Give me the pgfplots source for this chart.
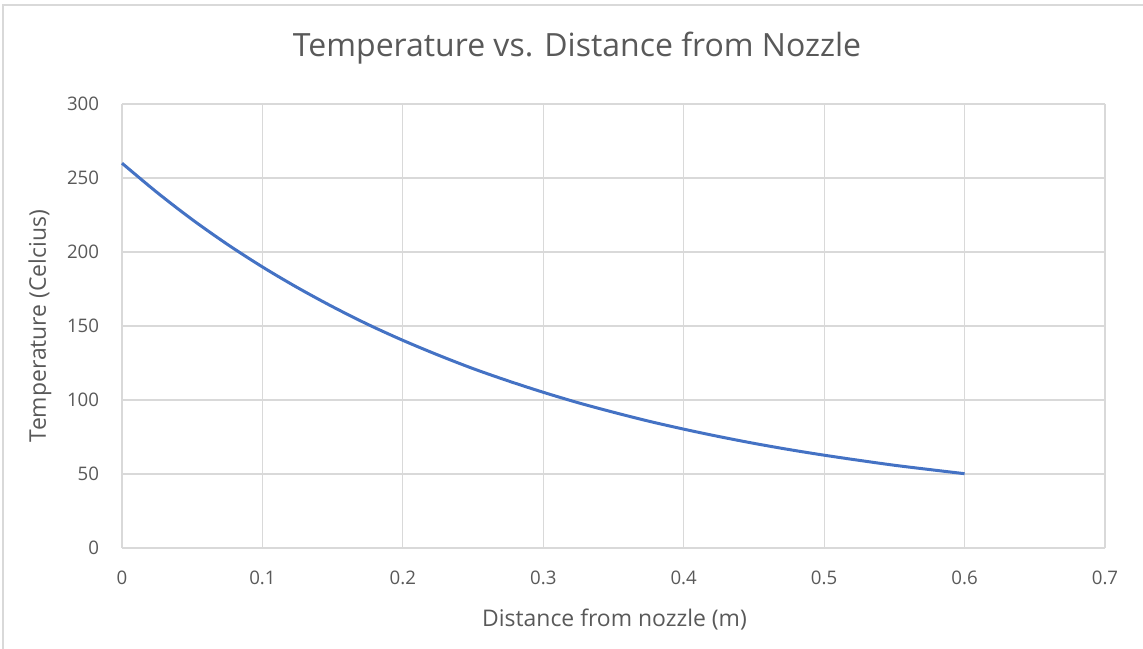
\documentclass[border=0pt]{standalone}
\usepackage{pgfplots}
\pgfplotsset{compat=1.18}
\usepackage{fontspec}
\setmainfont{Open Sans}
\definecolor{txt}{HTML}{595959}
\definecolor{grd}{HTML}{D9D9D9}
\definecolor{ln}{HTML}{4472C4}
\begin{document}
\begin{tikzpicture}
\begin{axis}[
  scale only axis, width=737.25pt, height=333pt,
  xmin=0, xmax=0.7, ymin=0, ymax=300,
  xtick={0,0.1,...,0.7}, ytick={0,50,...,300},
  xticklabels={0,0.1,0.2,0.3,0.4,0.5,0.6,0.7},
  grid=major, major grid style={grd, line width=0.9pt},
  axis line style={grd, line width=0.9pt},
  axis x line*=bottom, axis y line*=left,
  separate axis lines,
  y axis line style={draw=none},
  major tick length=0pt,
  tick label style={txt, font=\fontsize{14}{17}\selectfont},
  xticklabel style={anchor=center, yshift=-22.5pt},
  yticklabel style={anchor=east, inner sep=0pt, xshift=-17pt},
  /pgf/number format/assume math mode=true,
  clip=false,
  xlabel={Distance from nozzle (m)},
  ylabel={Temperature (Celcius)},
  label style={txt, font=\fontsize{17.2}{20}\selectfont},
  xlabel style={at={(rel axis cs:0.501,-0.1622)}, anchor=center},
  ylabel style={at={(rel axis cs:-0.0834,0.5)}, anchor=center, rotate=0},
]
\path[use as bounding box] (rel axis cs:-0.12411,-0.22748) rectangle (rel axis cs:1.03866,1.23423);
\draw[grd, line width=0.9pt] (rel axis cs:-0.121,-0.3) -- (rel axis cs:-0.121,1.223) -- (rel axis cs:1.1,1.223);
\node[txt, font=\fontsize{24}{28}\selectfont, anchor=center] at (rel axis cs:0.4629,1.126) {Temperature vs. Distance from Nozzle};
\addplot[ln, line width=2.25pt, smooth] coordinates {
(0,260) (0.025,240.2) (0.05,221.9) (0.075,205.2) (0.1,189.9) (0.125,175.9)
(0.15,163.0) (0.175,151.1) (0.2,140.3) (0.225,130.4) (0.25,121.2) (0.275,112.9)
(0.3,105.2) (0.325,98.1) (0.35,91.7) (0.375,85.7) (0.4,80.3) (0.425,75.3)
(0.45,70.7) (0.475,66.5) (0.5,62.7) (0.525,59.2) (0.55,55.9) (0.575,53.0) (0.6,50.2)
};
\end{axis}
\end{tikzpicture}
\end{document}
